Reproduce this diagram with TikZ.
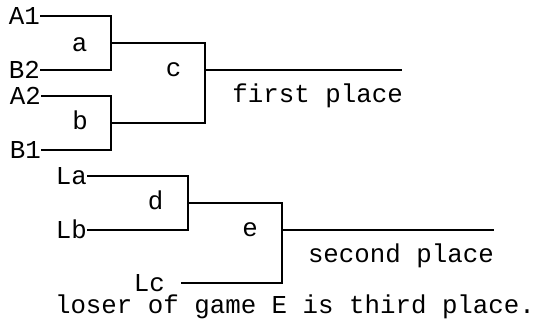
\documentclass[tikz,border=0pt]{standalone}
\usepackage{fontspec}
\setmonofont{Liberation Mono}
\begin{document}
\begin{tikzpicture}[x=1pt,y=-1pt,
  lbl/.style={inner sep=0pt,font=\ttfamily\fontsize{25.8}{26}\selectfont},
  wire/.style={line width=1.9pt,black}]
\useasboundingbox (0,0) rectangle (539,326);
% first bracket
\node[lbl,anchor=base east] (A1) at (40,24.5) {A1};
\node[lbl,anchor=base east] (B2) at (40,78.5) {B2};
\node[lbl,anchor=base east] (A2) at (41,104.5) {A2};
\node[lbl,anchor=base east] (B1) at (41,158.5) {B1};
\node[lbl,anchor=base] (ga) at (79.5,52) {a};
\node[lbl,anchor=base] (gb) at (80,130) {b};
\node[lbl,anchor=base] (gc) at (173.5,77) {c};
\node[lbl,anchor=base east] (first) at (403,103) {first place};
\coordinate (ja) at (111,43);
\coordinate (jb) at (111,123);
\coordinate (jc) at (205,70);
\coordinate (win1) at (402,70);
\draw[wire] ([yshift=8.5pt]A1.base east) -| (ja) |- ([yshift=8.5pt]B2.base east);
\draw[wire] ([yshift=8.5pt]A2.base east) -| (jb) |- ([yshift=8.5pt]B1.base east);
\draw[wire] (ja) -| (jc) |- (jb);
\draw[wire] (jc) -- (win1);
% second bracket
\node[lbl,anchor=base east] (La) at (87,184.5) {La};
\node[lbl,anchor=base east] (Lb) at (87,238.5) {Lb};
\node[lbl,anchor=base east] (Lc) at (165,291.5) {Lc};
\node[lbl,anchor=base] (gd) at (155.5,210) {d};
\node[lbl,anchor=base] (ge) at (250,237) {e};
\node[lbl,anchor=base east] (second) at (494,263) {second place};
\coordinate (jd) at (188,203);
\coordinate (je) at (282,230);
\coordinate (win2) at (494,230);
\draw[wire] ([yshift=8.5pt]La.base east) -| (jd) |- ([yshift=8.5pt]Lb.base east);
\draw[wire] (jd) -| (je) |- ([xshift=15.5pt,yshift=8.5pt]Lc.base east);
\draw[wire] (je) -- (win2);
\node[lbl,anchor=base] (third) at (295,314) {loser of game E is third place.};
\end{tikzpicture}
\end{document}
